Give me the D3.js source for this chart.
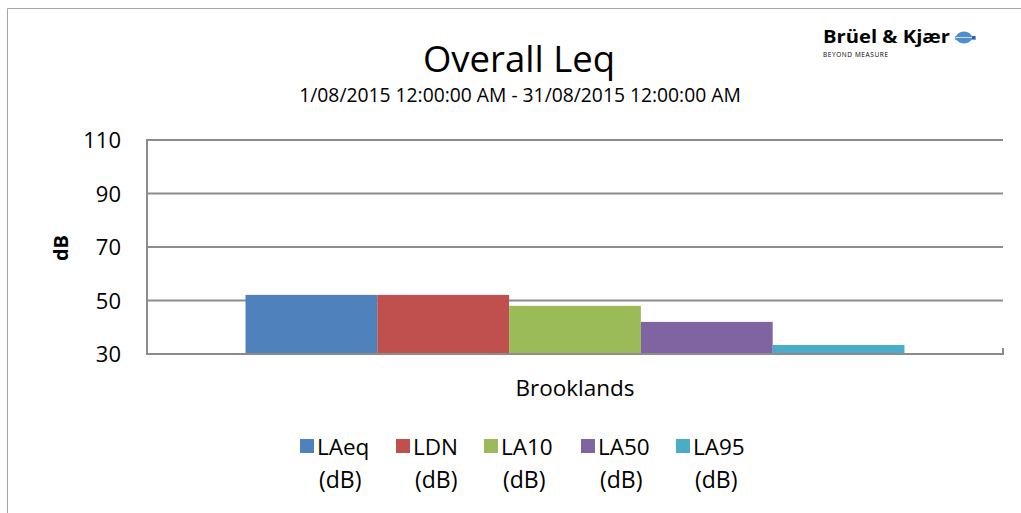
<!DOCTYPE html>
<html><head><meta charset="utf-8">
<script src="https://cdn.jsdelivr.net/npm/d3@7"></script>
<style>body{margin:0;background:#fff}svg{display:block}text{font-family:"Open Sans",sans-serif;fill:#000}</style>
</head><body>
<svg id="c" width="1021" height="513"></svg>
<script>
const categories = ["Brooklands"];
const seriesNames = ["LAeq", "LDN", "LA10", "LA50", "LA95"];
const seriesUnits = ["(dB)", "(dB)", "(dB)", "(dB)", "(dB)"];
const seriesValues = [52.1, 52.1, 48.0, 42.0, 33.4];
const seriesColors = ["#4F81BD", "#C0504D", "#9BBB59", "#8064A2", "#4BACC6"];
const yTicks = [30, 50, 70, 90, 110];
const titleText = "Overall Leq";
const subtitleText = "1/08/2015 12:00:00 AM - 31/08/2015 12:00:00 AM";
const yTitle = "dB";

const svg = d3.select("#c");
const m = {left:147, right:1003, top:140, bottom:354};

// outer frame
svg.append("path").attr("d","M7.5,513 L7.5,8.5 L1021,8.5").attr("fill","none").attr("stroke","#a6a6a6").attr("stroke-width",1);

const y = d3.scaleLinear().domain([30,110]).range([m.bottom, m.top]);
const x0 = d3.scaleBand().domain(categories).range([m.left, m.right]).paddingInner(0).paddingOuter(0.1495);
const x1 = d3.scaleBand().domain(seriesNames).range([0, x0.bandwidth()]).padding(0);

// grid
const g = svg.append("g");
g.selectAll("line.grid").data(yTicks).join("line")
  .attr("x1", m.left).attr("x2", m.right)
  .attr("y1", d=>y(d)).attr("y2", d=>y(d))
  .attr("stroke","#8c8c8c").attr("stroke-width",2);
g.append("line").attr("x1",m.left).attr("x2",m.left).attr("y1",m.top-1).attr("y2",m.bottom+1).attr("stroke","#8c8c8c").attr("stroke-width",2);
g.append("line").attr("x1",m.right).attr("x2",m.right).attr("y1",m.bottom-6).attr("y2",m.bottom+1).attr("stroke","#8c8c8c").attr("stroke-width",2);

// bars
const data = seriesNames.map((n,i)=>({cat:categories[0], name:n, v:seriesValues[i], c:seriesColors[i]}));
svg.append("g").selectAll("rect").data(data).join("rect")
  .attr("x", d=>x0(d.cat)+x1(d.name))
  .attr("width", x1.bandwidth())
  .attr("y", d=>y(d.v))
  .attr("height", d=>y(30)-y(d.v))
  .attr("fill", d=>d.c);
svg.append("line").attr("x1",m.left).attr("x2",m.right).attr("y1",y(30)).attr("y2",y(30)).attr("stroke","#8c8c8c").attr("stroke-width",2);

// y axis labels
const yAxis = d3.axisLeft(y).tickValues(yTicks).tickSize(0).tickPadding(0);
const ya = svg.append("g").attr("transform",`translate(${m.left-26},0)`).call(yAxis);
ya.select(".domain").remove();
ya.selectAll("text").attr("font-size",22).attr("font-family","'Open Sans',sans-serif").attr("fill","#000").attr("dy","0.36em");

// x axis label
const xa = svg.append("g").attr("transform",`translate(0,${m.bottom+42})`).call(d3.axisBottom(x0).tickSize(0).tickPadding(0));
xa.select(".domain").remove();
xa.selectAll("text").attr("font-size",22.5).attr("font-family","'Open Sans',sans-serif").attr("fill","#000").attr("dy","0");

// y title
svg.append("text").attr("transform","translate(68,248) rotate(-90)").attr("text-anchor","middle")
  .attr("font-size",20).attr("font-weight","bold").text(yTitle);

// titles
svg.append("text").attr("x",519).attr("y",72).attr("text-anchor","middle").attr("font-size",36.5).text(titleText);
svg.append("text").attr("x",520).attr("y",102).attr("text-anchor","middle").attr("font-size",19.3).text(subtitleText);

// legend
const legX = [300, 396, 484, 581, 676];
const leg = svg.append("g").selectAll("g").data(data).join("g").attr("transform",(d,i)=>`translate(${legX[i]},0)`);
leg.append("rect").attr("x",0).attr("y",439).attr("width",14).attr("height",14).attr("fill",d=>d.c);
leg.append("text").attr("x",17).attr("y",455).attr("font-size",22.5).text(d=>d.name);
leg.append("text").attr("x",19).attr("y",488).attr("font-size",23).text((d,i)=>seriesUnits[i]);

// logo
const logo = svg.append("g");
logo.append("text").attr("x",823).attr("y",43).attr("font-size",17).attr("font-weight","bold").attr("textLength",127).attr("lengthAdjust","spacingAndGlyphs").attr("font-family","'Liberation Sans',Arial,sans-serif").attr("fill","#222").text("Brüel & Kjær");
logo.append("text").attr("x",823).attr("y",57).attr("font-size",6.5).attr("textLength",65).attr("font-family","'Liberation Sans',Arial,sans-serif").attr("fill","#444").text("BEYOND MEASURE");
logo.append("rect").attr("x",955).attr("y",36).attr("width",21).attr("height",4).attr("fill","#7aa7d8");
logo.append("ellipse").attr("cx",964).attr("cy",37.5).attr("rx",8).attr("ry",6).attr("fill","#4f8fcf");
logo.append("line").attr("x1",956).attr("x2",972).attr("y1",37.5).attr("y2",37.5).attr("stroke","#cfe0f2").attr("stroke-width",1);
logo.append("rect").attr("x",972).attr("y",36).attr("width",3).attr("height",3).attr("fill","#2f5f9f");
</script>
</body></html>
